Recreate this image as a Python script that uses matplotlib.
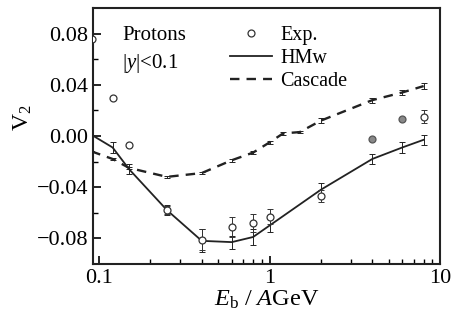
import numpy as np
import matplotlib
matplotlib.use("Agg")
import matplotlib.pyplot as plt
from matplotlib.lines import Line2D
from matplotlib.ticker import FixedLocator, FuncFormatter, NullFormatter

plt.rcParams["font.family"] = ["Liberation Serif", "DejaVu Serif"]
plt.rcParams["mathtext.fontset"] = "custom"
plt.rcParams["mathtext.rm"] = "Liberation Serif"
plt.rcParams["mathtext.it"] = "Liberation Serif:italic"

# experimental data (open circles)
exp_e   = [0.091, 0.12, 0.15, 0.25, 0.4, 0.6, 0.8, 1.0, 2.0, 8.0]
exp_v2  = [0.076, 0.030, -0.007, -0.058, -0.081, -0.071, -0.068, -0.063, -0.047, 0.015]
exp_err = [0.0, 0.0, 0.0, 0.003, 0.008, 0.008, 0.007, 0.006, 0.005, 0.005]
# experimental data (grey filled)
expf_e  = [4.0, 6.0]
expf_v2 = [-0.002, 0.013]

# HMw model
hmw_e   = [0.09, 0.12, 0.15, 0.25, 0.4, 0.6, 0.8, 1.0, 2.0, 4.0, 6.0, 8.0]
hmw_v2  = [0.001, -0.009, -0.026, -0.058, -0.082, -0.083, -0.079, -0.070, -0.042, -0.018, -0.009, -0.003]
hmw_err = [0.0, 0.004, 0.004, 0.004, 0.009, 0.005, 0.006, 0.005, 0.005, 0.004, 0.004, 0.004]

# Cascade model
cas_e   = [0.09, 0.12, 0.15, 0.25, 0.4, 0.6, 0.8, 1.0, 1.2, 1.5, 2.0, 4.0, 6.0, 8.0]
cas_v2  = [-0.012, -0.018, -0.025, -0.032, -0.029, -0.019, -0.013, -0.005, 0.002, 0.003, 0.012, 0.028, 0.034, 0.039]
cas_err = [0.0, 0.001, 0.001, 0.001, 0.001, 0.001, 0.001, 0.001, 0.001, 0.001, 0.002, 0.002, 0.002, 0.002]

ink = "#222222"

fig = plt.figure(figsize=(4.51, 3.21), dpi=100)
ax = fig.add_axes([0.206, 0.178, 0.77, 0.797])

ax.errorbar(hmw_e, hmw_v2, yerr=hmw_err, fmt="-", color=ink, lw=1.3,
            elinewidth=0.7, capsize=2, capthick=0.7)
ax.errorbar(cas_e, cas_v2, yerr=cas_err, fmt="--", color=ink, lw=1.7,
            dashes=(4, 3), elinewidth=0.7, capsize=2, capthick=0.7)
ax.errorbar(exp_e, exp_v2, yerr=exp_err, fmt="none", ecolor="#333333",
            elinewidth=0.7, capsize=2, capthick=0.7, zorder=4)
ax.plot(exp_e, exp_v2, "o", mfc="white", mec="#333333", ms=5, mew=0.9,
        zorder=5, clip_on=True)
ax.plot(expf_e, expf_v2, "o", mfc="#888888", mec="#555555", ms=5, mew=0.9, zorder=5)

ax.set_xscale("log")
ax.set_xlim(0.092, 10)
ax.set_ylim(-0.1, 0.1)

ax.xaxis.set_major_locator(FixedLocator([0.1, 1, 10]))
ax.xaxis.set_major_formatter(FuncFormatter(lambda v, p: {0.1: "0.1", 1: "1", 10: "10"}.get(round(v, 3), "")))
minors = [m * d for d in (0.1, 1) for m in range(2, 10)]
ax.xaxis.set_minor_locator(FixedLocator(minors))
ax.xaxis.set_minor_formatter(NullFormatter())

ax.yaxis.set_major_locator(FixedLocator([-0.08, -0.04, 0.0, 0.04, 0.08]))
ax.yaxis.set_minor_locator(FixedLocator([-0.06, -0.02, 0.02, 0.06]))
ax.yaxis.set_major_formatter(FuncFormatter(
    lambda v, p: ("\u2212" if v < -1e-9 else "") + f"{abs(v):.2f}"))

ax.tick_params(which="both", direction="in", top=False, right=False, labelsize=16)
ax.tick_params(which="major", length=6, width=1.2)
ax.tick_params(which="minor", length=3.5, width=1.0)
for s in ax.spines.values():
    s.set_linewidth(1.5)
    s.set_color(ink)

ax.set_ylabel("V$_2$", fontsize=17)
ax.yaxis.set_label_coords(-0.17, 0.57)
ax.set_xlabel("$E_\\mathrm{b}$ / $A$GeV", fontsize=17.5, labelpad=1)

ax.text(0.085, 0.875, "Protons", transform=ax.transAxes, fontsize=15)
ax.text(0.085, 0.765, "|$y$|<0.1", transform=ax.transAxes, fontsize=15)

handles = [
    Line2D([], [], ls="none", marker="o", mfc="white", mec="#333333", ms=5, mew=0.9),
    Line2D([], [], color=ink, lw=1.3),
    Line2D([], [], color=ink, lw=1.7, ls="--", dashes=(4, 3)),
]
ax.legend(handles, ["Exp.", "HMw", "Cascade"], loc="upper right",
          bbox_to_anchor=(0.785, 1.0), frameon=False, fontsize=14.5,
          handlelength=2.1, labelspacing=0.18, handletextpad=0.4)

fig.savefig("out.png", dpi=100)
